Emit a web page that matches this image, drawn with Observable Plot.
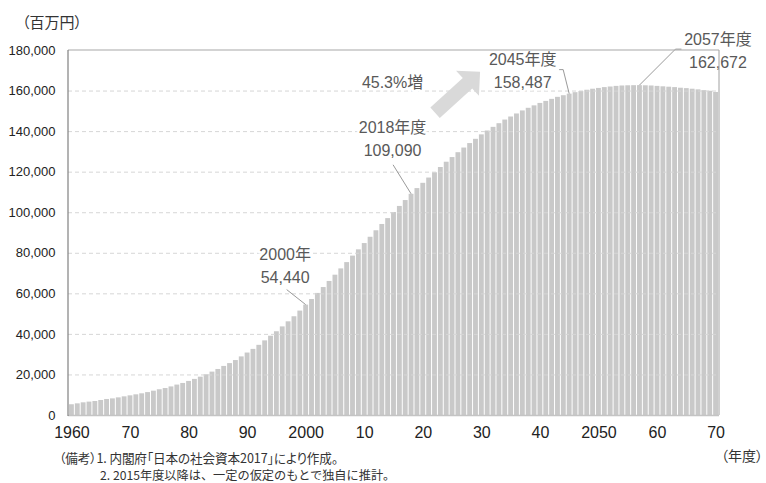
<!DOCTYPE html>
<html lang="ja">
<head>
<meta charset="utf-8">
<script src="https://cdn.jsdelivr.net/npm/d3@7"></script>
<script src="https://cdn.jsdelivr.net/npm/@observablehq/plot@0.6"></script>
<style>
  html, body { margin: 0; padding: 0; background: #fff; }
  #wrap { position: relative; width: 766px; height: 483px; overflow: hidden; }
  #chart { position: absolute; left: 0; top: 0; }
  .jp { position: absolute; white-space: nowrap; font-family: "Noto Sans CJK JP", sans-serif; color: #333; }
  .palt { font-feature-settings: "palt"; }
  .unit { left: 22px; top: 12px; font-size: 15px; line-height: 19px; }
  .xunit { left: 721px; top: 446px; font-size: 14px; line-height: 18px; }
  .note { font-size: 12px; line-height: 12px; }
  .n1 { left: 59px; top: 452px; font-size: 12.6px; letter-spacing: -0.1px; }
  .n2 { left: 100px; top: 469px; font-size: 12.2px; }
</style>
</head>
<body>
<div id="wrap">
  <div class="jp palt unit">（百万円）</div>
  <div id="chart"></div>
  <div class="jp palt xunit">（年度）</div>
  <div class="jp palt note n1">（備考）1. 内閣府「日本の社会資本2017」により作成。</div>
  <div class="jp note n2">2. 2015年度以降は、一定の仮定のもとで独自に推計。</div>
</div>
<script>
// Fiscal years 1960–2070
const years = d3.range(1960, 2071);

// Stock, million yen (2015 onward projected)
const values = [
  5300, 5750, 6250, 6600, 6900, 7400, 7900, 8200, 8700, 9200,          // 1960s
  9700, 10200, 10700, 11300, 12000, 12700, 13300, 14100, 15000, 15800,  // 1970s
  16800, 17800, 18900, 20100, 21400, 22700, 24200, 25600, 27100, 28900, // 1980s
  30800, 32600, 34600, 36800, 39100, 41300, 43700, 46200, 48700, 51500, // 1990s
  54440, 57200, 60200, 63100, 66100, 69200, 72300, 75400, 78600, 81700, // 2000s
  84800, 87900, 91100, 94200, 97100, 100100, 103100, 106000, 109090, 111900, // 2010s
  114500, 117100, 119700, 122300, 124900, 127200, 129600, 131900, 134100, 136200, // 2020s
  138400, 140300, 142100, 143900, 145700, 147200, 148700, 150200, 151500, 152700, // 2030s
  153900, 154900, 155900, 156900, 157700, 158487, 159200, 159800, 160400, 160900, // 2040s
  161300, 161700, 162000, 162300, 162500, 162600, 162650, 162672, 162600, 162500, // 2050s
  162300, 162100, 161900, 161700, 161400, 161200, 160900, 160600, 160200, 159900, // 2060s
  159300                                                                 // 2070
];

// Axis ticks
const yTicks = [0, 20000, 40000, 60000, 80000, 100000, 120000, 140000, 160000, 180000];
const gridTicks = [20000, 40000, 60000, 80000, 100000, 120000, 140000, 160000];
const decadeYears = [1960, 1970, 1980, 1990, 2000, 2010, 2020, 2030, 2040, 2050, 2060, 2070];
const decadeLabels = ["1960", "70", "80", "90", "2000", "10", "20", "30", "40", "2050", "60", "70"];

// Highlighted years
const callouts = [
  {year: 2000, title: "2000年"},
  {year: 2018, title: "2018年度"},
  {year: 2045, title: "2045年度"},
  {year: 2057, title: "2057年度"}
];
const growthFrom = 2018, growthTo = 2045;

// ---- layout ----
const FONT = "'Liberation Sans', 'Noto Sans CJK JP', sans-serif";
const calloutLayout = {
  2000: {dx: -21, dy: -50, leader: [[-19, -15], [0, 0]]},
  2018: {dx: -19, dy: -66, leader: [[-18, -29], [0, 0]]},
  2045: {dx: -47, dy: -34, leader: [[-10, -24], [-6, -24], [0, 0]]},
  2057: {dx: 78, dy: -46, leader: [[42, -36], [36, -36], [0, 0]]}
};
const lineGap = 23;

const data = years.map((year, i) => ({year, value: values[i]}));
const valueOf = new Map(data.map(d => [d.year, d.value]));
const fmt = d3.format(",");

const labelStyle = {fontSize: 16, fill: "#595959", fontFamily: FONT, stroke: "white", strokeWidth: 5, paintOrder: "stroke"};

const calloutMarks = callouts.flatMap(c => {
  const L = calloutLayout[c.year];
  const row = [{year: c.year, value: valueOf.get(c.year)}];
  return [
    Plot.text(row, {x: "year", y: "value", text: () => c.title, dx: L.dx, dy: L.dy, ...labelStyle}),
    Plot.text(row, {x: "year", y: "value", text: d => fmt(d.value), dx: L.dx, dy: L.dy + lineGap, ...labelStyle})
  ];
});

const growth = valueOf.get(growthTo) / valueOf.get(growthFrom) - 1;
const growthRow = [{year: growthFrom, value: valueOf.get(growthFrom)}];

const chart = Plot.plot({
  width: 766,
  height: 445,
  marginLeft: 68,
  marginRight: 47,
  marginTop: 50,
  marginBottom: 30,
  style: {background: "transparent", fontFamily: FONT},
  x: {type: "band", domain: years, padding: 0.17, axis: null},
  y: {domain: [0, 180000], axis: null},
  marks: [
    Plot.barY(data, {x: "year", y: "value", fill: "#c9c9c9"}),
    Plot.ruleY(gridTicks, {stroke: "#d6d6d6", strokeDasharray: "4,3"}),
    // y tick labels
    Plot.text(yTicks, {y: d => d, frameAnchor: "left", dx: -13, textAnchor: "end",
      text: d => fmt(d), fontSize: 13, fill: "#222", fontFamily: FONT}),
    // x tick labels
    Plot.text(decadeYears, {x: d => d, frameAnchor: "bottom", dy: 22,
      text: (d, i) => decadeLabels[i], fontSize: 16, fill: "#222", fontFamily: FONT}),
    ...calloutMarks,
    Plot.text(growthRow, {x: "year", y: "value", text: () => d3.format(".1%")(growth) + "増",
      dx: -19, dy: -111, ...labelStyle})
  ]
});

document.getElementById("chart").appendChild(chart);

// Leader lines, growth arrow and plot frame drawn from the chart's scales
const svg = d3.select(chart);
const xs = chart.scale("x"), ys = chart.scale("y");
const cx = yr => xs.apply(yr) + xs.bandwidth / 2;
const [xL, xR] = [68, 766 - 47];
const [yB, yT] = ys.range;

const lineGen = d3.line();
callouts.forEach(c => {
  const L = calloutLayout[c.year];
  const px = cx(c.year), py = ys.apply(valueOf.get(c.year));
  svg.append("path")
    .attr("d", lineGen(L.leader.map(([dx, dy]) => [px + dx, py + dy])))
    .attr("fill", "none").attr("stroke", "#808080").attr("stroke-width", 0.8);
});

// growth arrow, placed relative to the 2018 bar top
{
  const bx = cx(growthFrom), by = ys.apply(valueOf.get(growthFrom));
  const tail = [bx + 24, by - 81], tip = [bx + 69, by - 122];
  const vx = tip[0] - tail[0], vy = tip[1] - tail[1];
  const len = Math.hypot(vx, vy);
  const ux = vx / len, uy = vy / len, nx = -uy, ny = ux;
  const headLen = 17, headHalf = 17, shaftHalf = 7;
  const base = [tip[0] - ux * headLen, tip[1] - uy * headLen];
  const pts = [
    [tail[0] + nx * shaftHalf, tail[1] + ny * shaftHalf],
    [base[0] + nx * shaftHalf, base[1] + ny * shaftHalf],
    [base[0] + nx * headHalf, base[1] + ny * headHalf],
    tip,
    [base[0] - nx * headHalf, base[1] - ny * headHalf],
    [base[0] - nx * shaftHalf, base[1] - ny * shaftHalf],
    [tail[0] - nx * shaftHalf, tail[1] - ny * shaftHalf]
  ];
  svg.append("path").attr("d", lineGen(pts) + "Z").attr("fill", "#d9d9d9");
}

// frame
svg.append("line").attr("x1", xL).attr("x2", xR).attr("y1", yT).attr("y2", yT)
  .attr("stroke", "#a8a8a8").attr("stroke-width", 1.2);
svg.append("line").attr("x1", xR).attr("x2", xR).attr("y1", yT).attr("y2", yB)
  .attr("stroke", "#a0a0a0");
svg.append("line").attr("x1", xL).attr("x2", xR).attr("y1", yB + 0.5).attr("y2", yB + 0.5)
  .attr("stroke", "#c4c4c4").attr("stroke-width", 1.5);
svg.append("line").attr("x1", xL).attr("x2", xL).attr("y1", yT).attr("y2", yB + 1)
  .attr("stroke", "#808080").attr("stroke-width", 1.2);
</script>
</body>
</html>
